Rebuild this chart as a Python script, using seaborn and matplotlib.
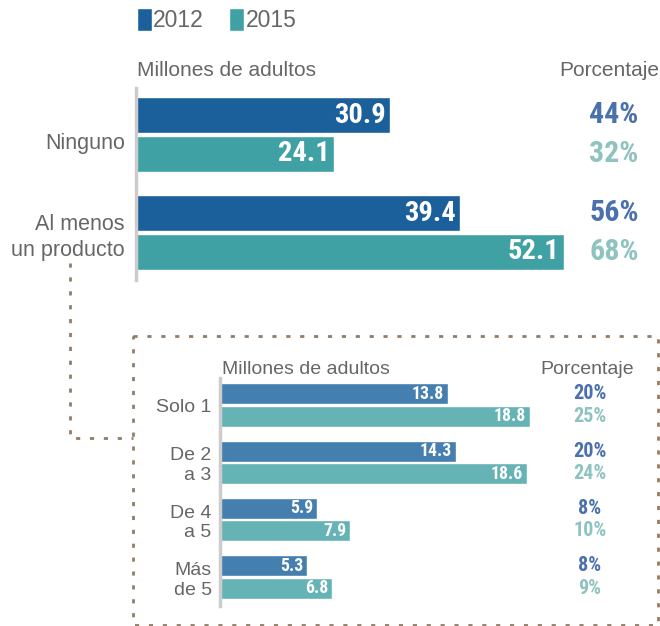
import matplotlib
matplotlib.use('Agg')
import matplotlib.pyplot as plt
import matplotlib.transforms as mtransforms
import matplotlib.font_manager as fm
from matplotlib.lines import Line2D
import pandas as pd
import seaborn as sns

sns.set_style('white')
plt.rcParams['font.family'] = ['Liberation Sans', 'DejaVu Sans']

# datos
years = ['2012', '2015']
cat_top = ['Ninguno', 'Al menos\nun producto']
adults_2012_top = [30.9, 39.4]
adults_2015_top = [24.1, 52.1]
pct_2012_top = [44, 56]
pct_2015_top = [32, 68]

cat_bot = ['Solo 1', 'De 2\na 3', 'De 4\na 5', 'Más\nde 5']
adults_2012_bot = [13.8, 14.3, 5.9, 5.3]
adults_2015_bot = [18.8, 18.6, 7.9, 6.8]
pct_2012_bot = [20, 20, 8, 8]
pct_2015_bot = [25, 24, 10, 9]

top = pd.DataFrame({'cat': cat_top * 2,
                    'year': [years[0]] * 2 + [years[1]] * 2,
                    'val': adults_2012_top + adults_2015_top})
bot = pd.DataFrame({'cat': cat_bot * 2,
                    'year': [years[0]] * 4 + [years[1]] * 4,
                    'val': adults_2012_bot + adults_2015_bot})

W, H = 660, 626
gray = '#666666'

# fuente estrecha para los numeros, si hay alguna
installed = {f.name for f in fm.fontManager.ttflist}
narrow_font = None
for cand in ['Liberation Sans Narrow', 'Roboto Condensed', 'DejaVu Sans Condensed',
             'Open Sans Condensed']:
    if cand in installed:
        narrow_font = cand
        break
if narrow_font:
    narrow = [narrow_font, 'DejaVu Sans']
    scale = 1.0
else:
    narrow = ['Liberation Sans', 'DejaVu Sans']
    scale = 0.87


def px_rect(x0, y0, x1, y1):
    return [x0 / W, 1 - y1 / H, (x1 - x0) / W, (y1 - y0) / H]


fig = plt.figure(figsize=(6.6, 6.26), dpi=100)

ax1 = fig.add_axes(px_rect(136, 88, 564, 280))
ax2 = fig.add_axes(px_rect(220, 378, 550, 606))

sns.barplot(data=top, x='val', y='cat', hue='year', orient='h', ax=ax1,
            palette=['#1b5f9b', '#40a1a4'], width=0.78, gap=0.06,
            saturation=1, errorbar=None)
sns.barplot(data=bot, x='val', y='cat', hue='year', orient='h', ax=ax2,
            palette=['#447fb0', '#65b3b5'], width=0.78, gap=0.07,
            saturation=1, errorbar=None, legend=False)

ax1.set_xlim(0, 52.1)
ax1.set_ylim(1.485, -0.474)
ax2.set_xlim(0, 330 / 16.49)
ax2.set_ylim(3.506, -0.471)

pct_cols = ['#4a70ad', '#8ec3c0']
setup = [(ax1, [pct_2012_top, pct_2015_top], 20.5, 21.5, 1.117, 8, 15.5, 1.3),
         (ax2, [pct_2012_bot, pct_2015_bot], 12.8, 14.5, 1.121, 6, 14, 1.2)]
for ax, pcts, vfs, pfs, px_x, pad, lfs, lsp in setup:
    for s in ['top', 'right', 'bottom']:
        ax.spines[s].set_visible(False)
    ax.spines['left'].set_color('#cccccc')
    ax.spines['left'].set_linewidth(2.5)
    ax.set_xticks([])
    ax.set_xlabel('')
    ax.set_ylabel('')
    ax.tick_params(axis='y', length=0, pad=pad, labelsize=lfs, labelcolor=gray)
    for lbl in ax.get_yticklabels():
        lbl.set_linespacing(lsp)
    tr = mtransforms.blended_transform_factory(ax.transAxes, ax.transData)
    for j, cont in enumerate(ax.containers):
        for k, p in enumerate(cont.patches):
            yc = p.get_y() + p.get_height() / 2
            ax.annotate(f'{p.get_width():.1f}', (p.get_width(), yc),
                        xytext=(-3, 0), textcoords='offset points',
                        ha='right', va='center', color='white',
                        fontsize=vfs * scale, fontweight='bold', family=narrow)
            ax.text(px_x, yc, f'{pcts[j][k]}%', transform=tr,
                    ha='center', va='center', color=pct_cols[j],
                    fontsize=pfs * scale, fontweight='bold', family=narrow)

# "Ninguno" va un poco mas abajo en el original
lab0 = ax1.yaxis.get_major_ticks()[0].label1
lab0.set_transform(lab0.get_transform()
                   + mtransforms.ScaledTranslation(0, -5 / 72, fig.dpi_scale_trans))

# encabezados
fig.text(137 / W, 1 - 80 / H, 'Millones de adultos', color=gray, fontsize=15,
         ha='left', va='bottom')
fig.text(659 / W, 1 - 80 / H, 'Porcentaje', color=gray, fontsize=15,
         ha='right', va='bottom')
fig.text(222 / W, 1 - 378 / H, 'Millones de adultos', color=gray, fontsize=14,
         ha='left', va='bottom')
fig.text(634 / W, 1 - 378 / H, 'Porcentaje', color=gray, fontsize=14,
         ha='right', va='bottom')

# leyenda
leg = ax1.legend(loc='center left', bbox_to_anchor=(137 / W, 1 - 20 / H),
                 bbox_transform=fig.transFigure, ncol=2, frameon=False,
                 fontsize=16.5, handlelength=0.66, handleheight=1.22,
                 handletextpad=0.05, columnspacing=1.1, borderpad=0,
                 borderaxespad=0, labelcolor=gray)

# conector y recuadro punteado
brown = '#927d69'
dot = dict(color=brown, lw=2, linestyle=(0, (1.5, 3.5)), transform=fig.transFigure)


def fline(xs, ys):
    fig.add_artist(Line2D([x / W for x in xs], [1 - y / H for y in ys], **dot))


fline([70, 70, 133], [263, 438, 438])
fline([133, 658, 658, 133, 133], [336, 336, 625, 625, 336])

fig.savefig('out.png', dpi=100)
